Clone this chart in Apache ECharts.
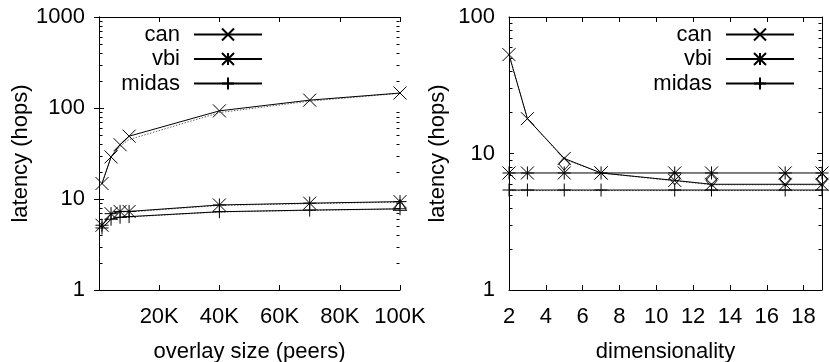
<!DOCTYPE html>
<html><head><meta charset="utf-8">
<script src="https://cdn.jsdelivr.net/npm/echarts@6/dist/echarts.min.js"></script>
<style>html,body{margin:0;padding:0;background:#fff}#c{width:830px;height:362px}</style>
</head><body><div id="c"></div>
<script>
// ---- data: left plot (overlay size) ----
const sizeX = [1000, 4000, 7000, 10000, 40000, 70000, 100000];
const sizeCan = [14.8, 29, 39.5, 49, 93, 122, 146];
const sizeCanDot = [14.8, 28.5, 38, 45, 89, 119, 145];
const sizeVbi = [5.15, 6.9, 7.3, 7.3, 8.6, 9.0, 9.35];
const sizeVbiDot = [5.1, 6.8, 7.2, 7.2, 8.5, 8.9, 9.25];
const sizeMidas = [4.8, 6.0, 6.3, 6.4, 7.25, 7.55, 7.8];
const sizeMidasDot = [4.75, 5.95, 6.25, 6.35, 7.2, 7.5, 7.75];
const sizeTriX = [100000];
const sizeTri = [8.6];
// ---- data: right plot (dimensionality) ----
const dimX = [2, 3, 5, 7, 11, 13, 17, 19];
const dimCan = [53, 18, 9.2, 7.2, 6.35, 5.95, 5.95, 5.95];
const dimCanDot = [53, 18, 9.1, 7.2, 6.3, 5.9, 5.9, 5.9];
const dimVbi = [7.2, 7.2, 7.2, 7.2, 7.2, 7.2, 7.2, 7.2];
const dimMidas = [5.4, 5.4, 5.4, 5.4, 5.4, 5.4, 5.4, 5.4];
const dimMidasDot = [5.35, 5.35, 5.35, 5.35, 5.35, 5.35, 5.35, 5.35];
const dimDiaX = [5, 11, 13, 17, 19];
const dimDia = [8.4, 6.6, 6.35, 6.45, 6.45];
// ---- axes ----
const leftXTicks = {min: 0, max: 100000, interval: 20000};
const leftYRange = {min: 1, max: 1000};
const rightXTicks = {min: 2, max: 19, interval: 2};
const rightYRange = {min: 1, max: 100};
const seriesNames = ['can', 'vbi', 'midas'];

const FONT = "'Liberation Sans', Arial, sans-serif";
const FS = 22;
const SYM_X = 'path://M0,0L10,10M10,0L0,10';
const SYM_STAR = 'path://M0,0L10,10M10,0L0,10M5,0L5,10M0,5L10,5';
const SYM_PLUS = 'path://M5,0L5,10M0,5L10,5';
const symbols = {can: SYM_X, vbi: SYM_STAR, midas: SYM_PLUS};

const zip = (xs, ys) => xs.map((x, i) => [x, ys[i]]);
const lineAxis = {show: true, lineStyle: {color: '#000', width: 1}};
const labelStyle = {fontFamily: FONT, fontSize: FS, color: '#000'};

function xAxes(grid, rng, name, fmt) {
  return [
    {type: 'value', gridIndex: grid, position: 'bottom', min: rng.min, max: rng.max, interval: rng.interval,
     axisLine: lineAxis, axisTick: {show: true, inside: true, length: 5, lineStyle: {color: '#000'}},
     axisLabel: Object.assign({margin: 16, showMinLabel: grid === 1, showMaxLabel: grid === 0, formatter: fmt}, labelStyle),
     splitLine: {show: false}, name: name, nameLocation: 'middle', nameGap: 51, nameMoveOverlap: false,
     nameTextStyle: labelStyle},
    {type: 'value', gridIndex: grid, position: 'top', min: rng.min, max: rng.max, interval: rng.interval,
     axisLine: lineAxis, axisTick: {show: true, inside: true, length: 5, lineStyle: {color: '#000'}},
     axisLabel: {show: false}, splitLine: {show: false}}
  ];
}
function yAxes(grid, rng, gap) {
  return [
    {type: 'log', logBase: 10, gridIndex: grid, position: 'left', min: rng.min, max: rng.max,
     axisLine: lineAxis, axisTick: {show: true, inside: true, length: 5, lineStyle: {color: '#000'}},
     axisLabel: Object.assign({margin: 14, formatter: v => String(Math.round(v))}, labelStyle), splitLine: {show: false},
     name: 'latency (hops)', nameLocation: 'middle', nameGap: gap, nameMoveOverlap: false, nameTextStyle: labelStyle},
    {type: 'log', logBase: 10, gridIndex: grid, position: 'right', min: rng.min, max: rng.max,
     axisLine: lineAxis, axisTick: {show: true, inside: true, length: 5, lineStyle: {color: '#000'}},
     axisLabel: {show: false}, splitLine: {show: false}}
  ];
}

function lineSeries(name, xi, yi, data) {
  return {type: 'line', name: name, xAxisIndex: xi, yAxisIndex: yi, data: data,
    symbol: symbols[name], symbolSize: 13, showAllSymbol: true,
    itemStyle: {color: 'none', borderColor: '#000', borderWidth: 1},
    lineStyle: {color: '#000', width: 1}, animation: false, z: 3};
}
function dotSeries(name, xi, yi, data) {
  return {type: 'line', name: name, xAxisIndex: xi, yAxisIndex: yi, data: data,
    symbol: 'none', lineStyle: {color: '#666', width: 1, type: [1.5, 1.5]}, animation: false, z: 2};
}
function markerSeries(name, xi, yi, data, sym, size) {
  return {type: 'scatter', name: name, xAxisIndex: xi, yAxisIndex: yi, data: data,
    symbol: sym, symbolSize: size,
    itemStyle: {color: 'none', borderColor: '#000', borderWidth: 1}, animation: false, z: 2};
}
function minorValues(rng) {
  const out = [];
  for (let d = rng.min; d < rng.max; d *= 10) for (let k = 2; k <= 9; k++) out.push(d * k);
  return out;
}
function minorTickSeries(xi, yi, xRef, rng) {
  return {type: 'custom', xAxisIndex: xi, yAxisIndex: yi, silent: true, animation: false, clip: false,
    data: minorValues(rng).map(v => [xRef, v]),
    renderItem: function (params, api) {
      const y = Math.round(api.coord([api.value(0), api.value(1)])[1]) + 0.5;
      const cs = params.coordSys;
      const l = Math.round(cs.x) + 0.5, r = Math.round(cs.x + cs.width) - 0.5;
      return {type: 'group', children: [
        {type: 'line', shape: {x1: l, y1: y, x2: l + 3, y2: y}, style: {stroke: '#000', lineWidth: 1}},
        {type: 'line', shape: {x1: r, y1: y, x2: r - 3, y2: y}, style: {stroke: '#000', lineWidth: 1}}
      ]};
    }};
}
function legendItem(name, right, top) {
  return {data: [name], orient: 'vertical', right: right, top: top, align: 'right', padding: 0,
    itemWidth: 68, itemHeight: 15, itemGap: 0, selectedMode: false,
    textStyle: {fontFamily: FONT, fontSize: FS, color: '#000', lineHeight: 24, padding: [0, 9, 0, 0]}};
}

const legendTops = [22.5, 47, 71.5];
const legends = [];
seriesNames.forEach((n, i) => {
  legends.push(legendItem(n, 567, legendTops[i]));
  legends.push(legendItem(n, 35, legendTops[i]));
});

const option = {
  animation: false,
  backgroundColor: '#fff',
  grid: [
    {left: 99, top: 17, width: 301, height: 273, containLabel: false, outerBoundsMode: 'none'},
    {left: 509, top: 17, width: 313, height: 273, containLabel: false, outerBoundsMode: 'none'}
  ],
  xAxis: [].concat(
    xAxes(0, leftXTicks, 'overlay size (peers)', v => (v / 1000) + 'K'),
    xAxes(1, rightXTicks, 'dimensionality', v => String(v))
  ),
  yAxis: [].concat(yAxes(0, leftYRange, 67), yAxes(1, rightYRange, 60)),
  legend: legends,
  series: [
    dotSeries('can~', 0, 0, zip(sizeX, sizeCanDot)),
    dotSeries('vbi~', 0, 0, zip(sizeX, sizeVbiDot)),
    dotSeries('midas~', 0, 0, zip(sizeX, sizeMidasDot)),
    markerSeries('tri', 0, 0, zip(sizeTriX, sizeTri), 'triangle', [13, 11]),
    lineSeries('can', 0, 0, zip(sizeX, sizeCan)),
    lineSeries('vbi', 0, 0, zip(sizeX, sizeVbi)),
    lineSeries('midas', 0, 0, zip(sizeX, sizeMidas)),
    dotSeries('can~', 2, 2, zip(dimX, dimCanDot)),
    dotSeries('midas~', 2, 2, zip(dimX, dimMidasDot)),
    markerSeries('dia', 2, 2, zip(dimDiaX, dimDia), 'diamond', [11, 13]),
    lineSeries('can', 2, 2, zip(dimX, dimCan)),
    lineSeries('vbi', 2, 2, zip(dimX, dimVbi)),
    lineSeries('midas', 2, 2, zip(dimX, dimMidas)),
    minorTickSeries(0, 0, leftXTicks.min, leftYRange),
    minorTickSeries(2, 2, rightXTicks.min, rightYRange)
  ]
};
const chart = echarts.init(document.getElementById('c'), null, {renderer: 'canvas'});
chart.setOption(option);
</script></body></html>
